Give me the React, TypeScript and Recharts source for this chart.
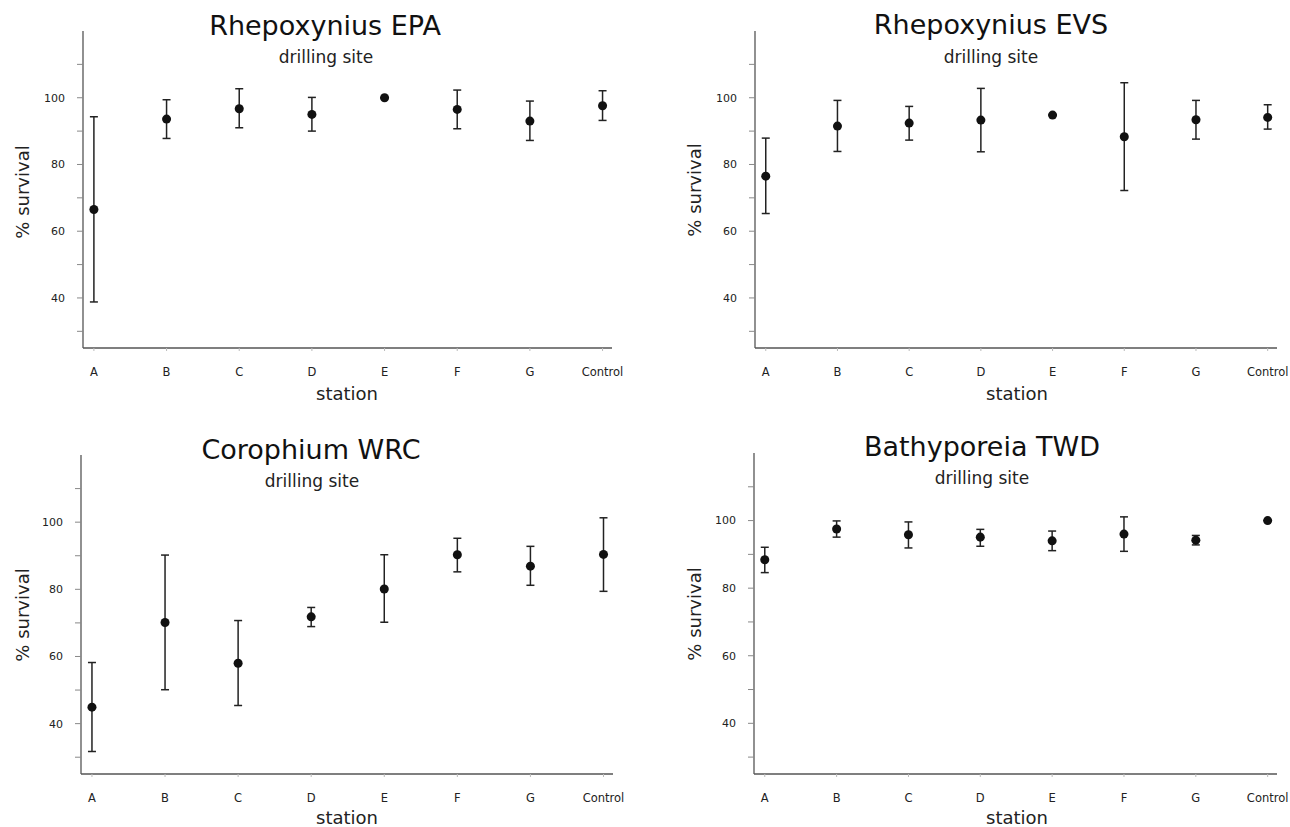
import React from 'react';
import { ScatterChart, Scatter, XAxis, YAxis, ZAxis, ErrorBar } from 'recharts';

const stations = ['A', 'B', 'C', 'D', 'E', 'F', 'G', 'Control'];
const yTicks = [30, 40, 50, 60, 70, 80, 90, 100, 110];

// Rhepoxynius EPA
const epaMean = [66.5, 93.6, 96.7, 95, 100, 96.5, 93, 97.6];
const epaLow = [38.8, 87.8, 91, 90, 100, 90.7, 87.2, 93.2];
const epaHigh = [94.3, 99.4, 102.7, 100.1, 100, 102.3, 99, 102.1];

// Rhepoxynius EVS
const evsMean = [76.5, 91.5, 92.4, 93.3, 94.8, 88.3, 93.4, 94.1];
const evsLow = [65.3, 83.9, 87.3, 83.8, 94.8, 72.2, 87.6, 90.6];
const evsHigh = [87.9, 99.2, 97.4, 102.8, 94.8, 104.5, 99.2, 97.9];

// Corophium WRC
const wrcMean = [44.9, 70.1, 58, 71.8, 80.1, 90.3, 86.9, 90.4];
const wrcLow = [31.7, 50.1, 45.4, 68.9, 70.2, 85.2, 81.2, 79.4];
const wrcHigh = [58.2, 90.2, 70.7, 74.6, 90.3, 95.2, 92.8, 101.3];

// Bathyporeia TWD
const twdMean = [88.4, 97.5, 95.8, 95.1, 94, 96, 94.2, 100];
const twdLow = [84.6, 95.1, 91.9, 92.4, 91.1, 90.9, 92.8, 100];
const twdHigh = [92.1, 99.9, 99.6, 97.4, 96.9, 101.1, 95.6, 100];

const rows = (mean: number[], low: number[], high: number[]) =>
  mean.map((m, i) => ({ x: i, y: m, err: [m - low[i], high[i] - m] }));

interface PanelProps {
  left: number;
  top: number;
  width: number;
  height: number;
  yAxisWidth: number;
  margin: { top: number; right: number; bottom: number; left: number };
  mean: number[];
  low: number[];
  high: number[];
}

const Panel: React.FC<PanelProps> = ({ left, top, width, height, yAxisWidth, margin, mean, low, high }) => (
  <div style={{ position: 'absolute', left, top }}>
    <ScatterChart width={width} height={height} margin={margin}>
      <XAxis
        type="number"
        dataKey="x"
        domain={[-0.15, 7.13]}
        ticks={[0, 1, 2, 3, 4, 5, 6, 7]}
        tickFormatter={(v: number) => stations[v]}
        height={30}
        axisLine={{ stroke: '#555', strokeWidth: 1.3 }}
        tickLine={{ stroke: '#bbb' }}
        tickSize={3}
        tickMargin={17}
        tick={{ fontSize: 11.5, fill: '#222' }}
      />
      <YAxis
        type="number"
        dataKey="y"
        domain={[25, 120]}
        ticks={yTicks}
        tickFormatter={(v: number) => (v % 20 === 0 ? String(v) : '')}
        width={yAxisWidth}
        axisLine={{ stroke: '#555', strokeWidth: 1.3 }}
        tickLine={{ stroke: '#888' }}
        tickSize={6}
        tickMargin={12}
        tick={{ fontSize: 11, fill: '#222' }}
      />
      <ZAxis range={[115, 115]} />
      <Scatter data={rows(mean, low, high)} fill="#111" isAnimationActive={false}>
        <ErrorBar dataKey="err" direction="y" width={4} stroke="#222" strokeWidth={1.5} />
      </Scatter>
    </ScatterChart>
  </div>
);

const titleStyle = { fontSize: 27, fill: '#111' };
const subStyle = { fontSize: 17, fill: '#222' };
const axisStyle = { fontSize: 18, fill: '#222' };

export default function App() {
  return (
    <div
      style={{
        position: 'absolute',
        left: 0,
        top: 0,
        width: 1290,
        height: 827,
        background: '#fff',
        fontFamily: '"DejaVu Sans", sans-serif',
      }}
    >
      <Panel left={0} top={0} width={640} height={420} yAxisWidth={83}
        margin={{ top: 31, right: 28, bottom: 42, left: 0 }}
        mean={epaMean} low={epaLow} high={epaHigh} />
      <Panel left={645} top={0} width={645} height={420} yAxisWidth={110}
        margin={{ top: 31, right: 13, bottom: 42, left: 0 }}
        mean={evsMean} low={evsLow} high={evsHigh} />
      <Panel left={0} top={414} width={640} height={413} yAxisWidth={81}
        margin={{ top: 41, right: 27, bottom: 23, left: 0 }}
        mean={wrcMean} low={wrcLow} high={wrcHigh} />
      <Panel left={645} top={414} width={645} height={413} yAxisWidth={109}
        margin={{ top: 39, right: 13, bottom: 23, left: 0 }}
        mean={twdMean} low={twdLow} high={twdHigh} />

      <svg width={1290} height={827} style={{ position: 'absolute', left: 0, top: 0, pointerEvents: 'none' }}>
        <text x={325} y={35} textAnchor="middle" style={titleStyle}>Rhepoxynius EPA</text>
        <text x={326} y={63} textAnchor="middle" style={subStyle}>drilling site</text>
        <text x={347} y={400} textAnchor="middle" style={axisStyle}>station</text>
        <text transform="translate(29,192) rotate(-90)" textAnchor="middle" style={axisStyle}>% survival</text>

        <text x={991} y={34} textAnchor="middle" style={titleStyle}>Rhepoxynius EVS</text>
        <text x={991} y={63} textAnchor="middle" style={subStyle}>drilling site</text>
        <text x={1017} y={400} textAnchor="middle" style={axisStyle}>station</text>
        <text transform="translate(701,190) rotate(-90)" textAnchor="middle" style={axisStyle}>% survival</text>

        <text x={311} y={459} textAnchor="middle" style={titleStyle}>Corophium WRC</text>
        <text x={312} y={487} textAnchor="middle" style={subStyle}>drilling site</text>
        <text x={347} y={824} textAnchor="middle" style={axisStyle}>station</text>
        <text transform="translate(29,615) rotate(-90)" textAnchor="middle" style={axisStyle}>% survival</text>

        <text x={982} y={456} textAnchor="middle" style={titleStyle}>Bathyporeia TWD</text>
        <text x={982} y={484} textAnchor="middle" style={subStyle}>drilling site</text>
        <text x={1017} y={824} textAnchor="middle" style={axisStyle}>station</text>
        <text transform="translate(701,614) rotate(-90)" textAnchor="middle" style={axisStyle}>% survival</text>
      </svg>
    </div>
  );
}
